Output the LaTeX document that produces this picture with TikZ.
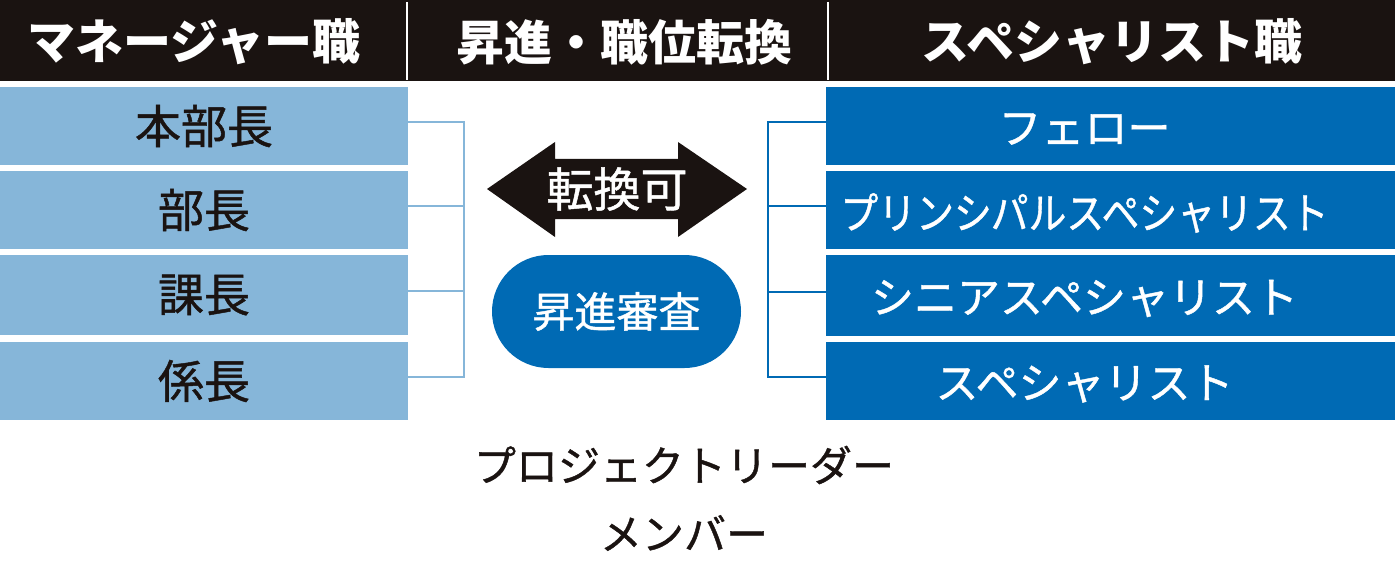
\documentclass[tikz,border=0pt]{standalone}
\usepackage{fontspec}
\setmainfont{Noto Sans CJK JP}
\newfontfamily\medfont{Noto Sans CJK JP}[FakeBold=1]
\usetikzlibrary{positioning}
\definecolor{headblack}{HTML}{1A1311}
\definecolor{mgrblue}{HTML}{86B6D9}
\definecolor{spcblue}{HTML}{006AB4}

\begin{document}
\begin{tikzpicture}[x=1pt,y=-1pt,
  headtext/.style={text=white,font=\fontsize{48}{48}\selectfont\bfseries},
  rowbox/.style={minimum height=78pt,inner sep=0pt,outer sep=0pt,anchor=north west},
  mgrbox/.style={rowbox,fill=mgrblue,minimum width=408pt,text=headblack,font=\medfont\fontsize{46}{46}\selectfont},
  spcbox/.style={rowbox,fill=spcblue,minimum width=569pt},
  spctext/.style={text=white,font=\medfont\fontsize{43}{43}\selectfont},
  mgrline/.style={draw=mgrblue,line width=2pt},
  spcline/.style={draw=spcblue,line width=2pt}]

\useasboundingbox (0,0) rectangle (1395,567);

% The black header bar and its three titles
\fill[headblack] (0,0) rectangle (1395,81);
\draw[white,line width=2pt] (407,2) -- (407,80);
\draw[white,line width=2pt] (828,2) -- (828,80);
\node[headtext] (hmgr) at (194,42) {マネージャー職};
\node[headtext] (hmid) at (624,42) {昇進・職位転換};
\node[headtext] (hspc) at (1112,42) {スペシャリスト職};

% The manager grades on the left
\node[mgrbox] (m1) at (0,87) {本部長};
\node[mgrbox] (m2) at (0,171) {部長};
\node[mgrbox,minimum height=80pt] (m3) at (0,255) {課長};
\node[mgrbox] (m4) at (0,342) {係長};

% The specialist grades on the right
\node[spcbox,label={[spctext,xshift=-26pt,yshift=-3pt]center:フェロー}] (s1) at (826,87) {};
\node[spcbox,label={[spctext,xshift=-26pt,yshift=-3pt]center:\scalebox{0.88}[1]{プリンシパルスペシャリスト}}] (s2) at (826,171) {};
\node[spcbox,minimum height=81pt,label={[spctext,xshift=-26pt,yshift=-3pt]center:シニアスペシャリスト}] (s3) at (826,255) {};
\node[spcbox,label={[spctext,xshift=-26pt,yshift=-3pt]center:スペシャリスト}] (s4) at (826,342) {};

% The brackets joining each column
\coordinate (lt) at (464,122);
\coordinate (lb) at (464,378);
\coordinate (rt) at (768,122);
\coordinate (rb) at (768,378);
\draw[mgrline] (lt) -- (lb);
\draw[spcline] (rt) -- (rb);
\foreach \i in {1,...,4} {
  \draw[mgrline] ([yshift=4pt]m\i.east) -- ++(57,0);
  \draw[spcline] ([yshift=4pt]s\i.west) -- ++(-59,0);
}

% The double arrow for switching tracks
\fill[headblack] (487,189) -- (555,142) -- (555,159) -- (678,159) -- (678,142)
  -- (747,189) -- (678,237) -- (678,219) -- (555,219) -- (555,237) -- cycle;
\node[text=white,font=\medfont\fontsize{47}{47}\selectfont] (swap) at (617,189) {転換可};

% The promotion review pill
\node[fill=spcblue,rounded corners=56.5pt,minimum width=249pt,minimum height=113pt,
  inner sep=0pt,text=white,font=\medfont\fontsize{42}{42}\selectfont] (review) at (616.5,311.5) {昇進審査};

% The roles below the grades
\node[text=headblack,font=\medfont\fontsize{42}{42}\selectfont] (leader) at (684,465) {プロジェクトリーダー};
\node[text=headblack,font=\medfont\fontsize{42}{42}\selectfont] (member) at (684,533) {メンバー};

\end{tikzpicture}
\end{document}
